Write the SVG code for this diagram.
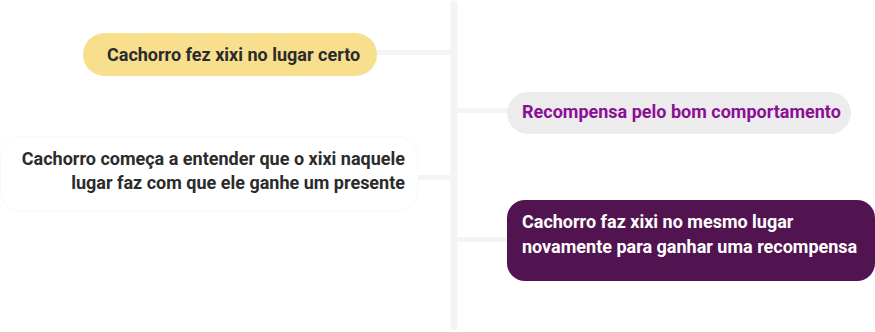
<svg xmlns="http://www.w3.org/2000/svg" width="875" height="332" viewBox="0 0 875 332">
<style>
.t{font-family:Roboto,"Liberation Sans",sans-serif;font-weight:bold;font-size:18px}
.c{stroke:#f4f4f4;fill:none}
</style>
<rect width="875" height="332" fill="#ffffff"/>
<g id="connectors">
<line class="c" x1="454" y1="4" x2="454" y2="327" stroke-width="7" stroke-linecap="round"/>
<line class="c" x1="376" y1="52.5" x2="451" y2="52.5" stroke-width="5"/>
<line class="c" x1="418" y1="177.5" x2="451" y2="177.5" stroke-width="5"/>
<line class="c" x1="457" y1="110.5" x2="510" y2="110.5" stroke-width="5"/>
<line class="c" x1="457" y1="239.5" x2="510" y2="239.5" stroke-width="5"/>
</g>
<g id="node1">
<rect x="83" y="33" width="294" height="43" rx="21.5" fill="#f7df8d"/>
<text class="t" x="107" y="61" fill="#2b2b2b">Cachorro fez xixi no lugar certo</text>
</g>
<g id="node2">
<rect x="0.5" y="137" width="417.5" height="74" rx="20" fill="#ffffff" stroke="#f8f8f8"/>
<text class="t" fill="#2b2b2b" text-anchor="end"><tspan x="405" y="165">Cachorro começa a entender que o xixi naquele</tspan><tspan x="405" y="189">lugar faz com que ele ganhe um presente</tspan></text>
</g>
<g id="node3">
<rect x="507" y="92" width="344" height="42" rx="21" fill="#ececec"/>
<text class="t" x="522" y="118" fill="#8b0f96">Recompensa pelo bom comportamento</text>
</g>
<g id="node4">
<rect x="507" y="200" width="368" height="81" rx="18" fill="#521450"/>
<text class="t" fill="#ffffff"><tspan x="522" y="228">Cachorro faz xixi no mesmo lugar</tspan><tspan x="522" y="253">novamente para ganhar uma recompensa</tspan></text>
</g>
</svg>
